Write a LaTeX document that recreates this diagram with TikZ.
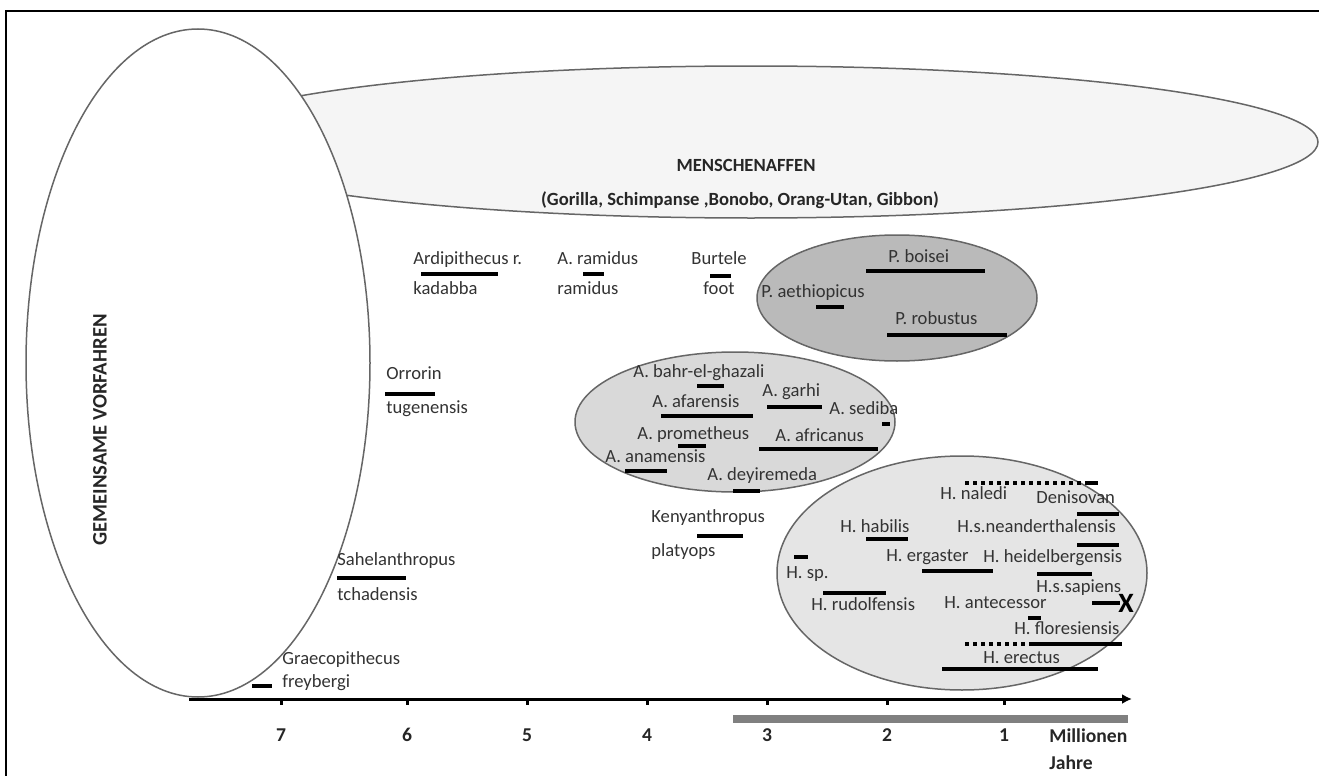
\documentclass[tikz,border=0pt]{standalone}
\usepackage{fontspec}
\setmainfont{Carlito}
\usepackage{tikz}
\usetikzlibrary{arrows.meta, positioning}
\usepackage{xcolor}

\begin{document}
\begin{tikzpicture}[
    x=0.5pt, y=-0.5pt,
    lbl/.style={anchor=mid west, inner sep=0pt, text=black!80, font=\fontsize{9.3}{11}\selectfont},
    head/.style={inner sep=0pt, text=black!85, font=\fontsize{9.3}{11}\selectfont\bfseries},
    grp/.style={draw=black!60, line width=0.75pt},
    rng/.style={line width=2pt, black},
    dotrng/.style={line width=2pt, black, dash pattern=on 2pt off 2pt},
    axis/.style={line width=1.5pt, -{Latex[length=5pt, width=5pt]}},
    tickmark/.style={line width=1.5pt},
    ticklbl/.style={inner sep=0pt, font=\fontsize{9.8}{11}\selectfont\bfseries, text=black!85}
]
\useasboundingbox (0,0) rectangle (1319,776);
\draw[line width=0.7pt] (6,776) -- (6,11) -- (1319,11);

% Groups
\filldraw[grp, fill=black!4] (751,142) ellipse [x radius=283.5pt, y radius=38pt];
\filldraw[grp, fill=white] (198,363) ellipse [x radius=86pt, y radius=167pt];
\filldraw[grp, fill=black!27] (897,298) ellipse [x radius=70pt, y radius=31.5pt];
\filldraw[grp, fill=black!15] (735,422) ellipse [x radius=80pt, y radius=35pt];
\filldraw[grp, fill=black!10] (962,573) ellipse [x radius=92.5pt, y radius=58.5pt];

\node[head] (affen) at (746,165) {MENSCHENAFFEN};
\node[head] (affenlist) at (740,200) {(Gorilla, Schimpanse ,Bonobo, Orang-Utan, Gibbon)};
\node[head, rotate=90, font=\fontsize{10.3}{12}\selectfont\bfseries] (vorfahren) at (100,430) {GEMEINSAME VORFAHREN};

% Early hominins
\node[lbl] (ardi) at (413,260) {Ardipithecus r.};
\node[lbl] (ardib) at (413,290) {kadabba};
\draw[rng] (421,274) -- (498,274);
\node[lbl] (ramid) at (557,260) {A. ramidus};
\node[lbl] (ramidb) at (557,290) {ramidus};
\draw[rng] (583,274) -- (604,274);
\node[lbl] (burt) at (691,260) {Burtele};
\node[lbl] (burtb) at (703,290) {foot};
\draw[rng] (710,276) -- (731,276);
\node[lbl] (orr) at (386,375) {Orrorin};
\node[lbl] (orrb) at (386,409) {tugenensis};
\draw[rng] (385,394) -- (435,394);
\node[lbl] (sahel) at (337,561) {Sahelanthropus};
\node[lbl] (sahelb) at (337,596) {tchadensis};
\draw[rng] (337,578) -- (406,578);
\node[lbl] (graeco) at (282,660) {Graecopithecus};
\node[lbl] (graecob) at (282,683) {freybergi};
\draw[rng] (252,686) -- (272,686);
\node[lbl] (kenya) at (651,518) {Kenyanthropus};
\node[lbl] (kenyab) at (651,552) {platyops};
\draw[rng] (697,536) -- (743,536);

% Paranthropus
\node[lbl] (boisei) at (888,258) {P. boisei};
\draw[rng] (866,271) -- (985,271);
\node[lbl] (aethiop) at (761,293) {P. aethiopicus};
\draw[rng] (816,307) -- (844,307);
\node[lbl] (robust) at (895,320) {P. robustus};
\draw[rng] (887,335) -- (1007,335);

% Australopithecus
\node[lbl] (bahr) at (633,373) {A. bahr-el-ghazali};
\draw[rng] (697,386) -- (724,386);
\node[lbl] (afar) at (652,403) {A. afarensis};
\draw[rng] (661,416) -- (753,416);
\node[lbl] (garhi) at (762,392) {A. garhi};
\draw[rng] (767,407) -- (822,407);
\node[lbl] (sediba) at (829,410) {A. sediba};
\draw[rng] (882,424) -- (890,424);
\node[lbl] (prom) at (637,435) {A. prometheus};
\draw[rng] (678,446) -- (706,446);
\node[lbl] (afric) at (775,437) {A. africanus};
\draw[rng] (759,449) -- (878,449);
\node[lbl] (anam) at (605,458) {A. anamensis};
\draw[rng] (625,471) -- (667,471);
\node[lbl] (deyi) at (707,476) {A. deyiremeda};
\draw[rng] (733,491) -- (760,491);

% Homo
\draw[dotrng] (965,483) -- (1088,483);
\draw[rng] (1088,483) -- (1098,483);
\node[lbl] (naledi) at (940,495) {H. naledi};
\node[lbl] (deniso) at (1036,499) {Denisovan};
\draw[rng] (1077,514) -- (1119,514);
\node[lbl] (habilis) at (840,528) {H. habilis};
\draw[rng] (866,539) -- (908,539);
\node[lbl] (neander) at (957,528) {H.s.neanderthalensis};
\draw[rng] (1077,545) -- (1119,545);
\draw[rng] (794,557) -- (808,557);
\node[lbl] (hsp) at (786,574) {H. sp.};
\node[lbl] (ergaster) at (886,557) {H. ergaster};
\draw[rng] (922,571) -- (993,571);
\node[lbl] (heidel) at (983,558) {H. heidelbergensis};
\draw[rng] (1037,574) -- (1092,574);
\node[lbl] (rudolf) at (811,606) {H. rudolfensis};
\draw[rng] (823,593) -- (886,593);
\node[lbl] (sapiens) at (1036,588) {H.s.sapiens};
\draw[rng] (1092,603) -- (1120,603);
\node[inner sep=0pt, font=\fontsize{14}{14}\selectfont\bfseries] (extinct) at (1126,603) {X};
\node[lbl] (antec) at (944,604) {H. antecessor};
\draw[rng] (1028,618) -- (1041,618);
\node[lbl] (flores) at (1014,630) {H. floresiensis};
\draw[dotrng] (965,644) -- (1030,644);
\draw[rng] (1030,644) -- (1122,644);
\node[lbl] (erectus) at (983,659) {H. erectus};
\draw[rng] (942,669) -- (1098,669);

% Time axis
\coordinate (ax0) at (189,699);
\coordinate (ax1) at (1132,699);
\draw[axis] (ax0) -- (ax1);
\foreach \xx/\lab in {281/7, 407/6, 527/5, 647/4, 767/3, 887/2, 1004/1} {
  \draw[tickmark] (\xx,699) -- (\xx,705);
  \node[ticklbl] (t\lab) at (\xx,735) {\lab};
}
\draw[line width=4pt, black!50] (733,719) -- (1128,719);
\node[ticklbl, anchor=mid west] (mio) at (1049,738) {Millionen};
\node[ticklbl, anchor=mid west] (jahre) at (1049,765) {Jahre};

\end{tikzpicture}
\end{document}
